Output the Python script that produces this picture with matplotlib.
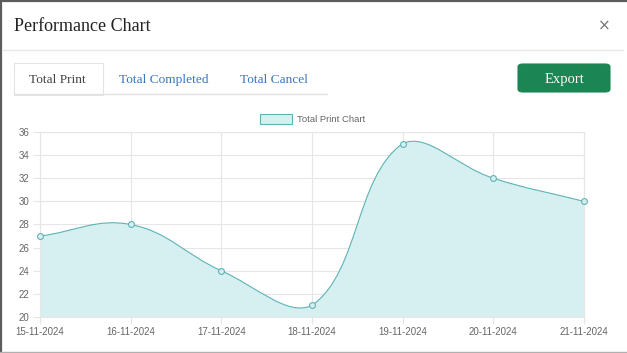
import numpy as np
import matplotlib
matplotlib.use("Agg")
import matplotlib.pyplot as plt
from matplotlib.path import Path
from matplotlib.patches import PathPatch, Rectangle, FancyBboxPatch
from matplotlib.lines import Line2D

# data
dates = ["15-11-2024", "16-11-2024", "17-11-2024", "18-11-2024",
         "19-11-2024", "20-11-2024", "21-11-2024"]
total_print = [27, 28, 24, 21, 35, 32, 30]
y_ticks = [20, 22, 24, 26, 28, 30, 32, 34, 36]
tabs = ["Total Print", "Total Completed", "Total Cancel"]

W, H = 627, 353
LINE = "#5fb3b5"
FILL = "#d6eff0"
GRID = "#e6e6e6"
SERIF = "Liberation Serif"
SANS = "Liberation Sans"

fig = plt.figure(figsize=(W / 100, H / 100), dpi=100, facecolor="white")


def fx(x):
    return x / W


def fy(y):
    return 1 - y / H


# modal frame
fig.add_artist(Line2D([0, 1], [fy(1), fy(1)], color="#5c5c5c", lw=1.6))
fig.add_artist(Line2D([fx(1), fx(1)], [0, 1], color="#5c5c5c", lw=1.6))
fig.add_artist(Line2D([0, 1], [fy(352), fy(352)], color="#b0b0b0", lw=1))

# header
fig.text(fx(14), fy(31), "Performance Chart", family=SERIF, fontsize=13,
         color="#222222", va="baseline", ha="left")
fig.text(fx(604), fy(26), "\u00d7", family="DejaVu Sans", fontsize=11,
         color="#777777", va="center", ha="center")
fig.add_artist(Line2D([fx(3), fx(623)], [fy(50), fy(50)], color="#e8e8e8", lw=1))

# tabs
fig.add_artist(Line2D([fx(14), fx(327)], [fy(94), fy(94)], color="#e3e3e3", lw=1))
fig.add_artist(Rectangle((fx(14), fy(95)), fx(103) - fx(14), fy(63) - fy(95),
                         facecolor="white", edgecolor="#e3e3e3", lw=0.8))
tab_x = [57.5, 164, 274.5]
tab_base = [82.7, 83.0, 82.7]
for label, x, yb in zip(tabs, tab_x, tab_base):
    fig.text(fx(x), fy(yb), label, family=SERIF, fontsize=9.6,
             color="#444444" if x == tab_x[0] else "#3578c0",
             va="baseline", ha="center")

# export button
fig.add_artist(FancyBboxPatch((fx(518), fy(92)), fx(610) - fx(518), fy(64) - fy(92),
                              boxstyle="round,pad=0,rounding_size=0.008",
                              facecolor="#1b8553", edgecolor="#1b8553", lw=0.8))
fig.text(fx(564), fy(83.5), "Export", family=SERIF, fontsize=10.5,
         color="white", va="baseline", ha="center")

# chart
ax = fig.add_axes([fx(40), fy(317), fx(584) - fx(40), fy(132) - fy(317)])
x = np.arange(len(dates))
ax.set_xlim(0, len(dates) - 1)
ax.set_ylim(y_ticks[0], y_ticks[-1])
ax.set_xticks(x)
ax.set_xticklabels(dates)
ax.set_yticks(y_ticks)
ax.grid(True, color=GRID, lw=0.8)
ax.set_axisbelow(True)
for s in ax.spines.values():
    s.set_color(GRID)
    s.set_linewidth(0.8)
ax.tick_params(length=5, color=GRID, width=0.8, labelsize=7,
               labelcolor="#666666", pad=2.5)
for t in ax.get_xticklabels() + ax.get_yticklabels():
    t.set_family(SANS)

# Chart.js style spline (tension 0.4) computed in pixel space
trans = ax.transData
pts = trans.transform(np.column_stack([x, total_print]))
n = len(pts)
cp_prev = np.zeros_like(pts)
cp_next = np.zeros_like(pts)
for i in range(n):
    prev = pts[i - 1] if i > 0 else pts[i]
    nxt = pts[i + 1] if i < n - 1 else pts[i]
    d01 = np.hypot(*(pts[i] - prev))
    d12 = np.hypot(*(nxt - pts[i]))
    tot = d01 + d12
    s01 = d01 / tot if tot else 0
    s12 = d12 / tot if tot else 0
    cp_prev[i] = pts[i] - 0.4 * s01 * (nxt - prev)
    cp_next[i] = pts[i] + 0.4 * s12 * (nxt - prev)
bb = ax.bbox
for arr in (cp_prev, cp_next):
    arr[:, 0] = np.clip(arr[:, 0], bb.x0, bb.x1)
    arr[:, 1] = np.clip(arr[:, 1], bb.y0, bb.y1)

inv = trans.inverted()
verts = [pts[0]]
codes = [Path.MOVETO]
for i in range(n - 1):
    verts += [cp_next[i], cp_prev[i + 1], pts[i + 1]]
    codes += [Path.CURVE4] * 3
verts = inv.transform(np.array(verts))

fill_verts = np.vstack([verts, [[x[-1], y_ticks[0]], [x[0], y_ticks[0]], verts[0]]])
fill_codes = codes + [Path.LINETO, Path.LINETO, Path.CLOSEPOLY]
ax.add_patch(PathPatch(Path(fill_verts, fill_codes), facecolor=FILL,
                       edgecolor="none", zorder=2))
ax.add_patch(PathPatch(Path(verts, codes), facecolor="none", edgecolor=LINE,
                       lw=0.8, zorder=3))
ax.plot(x, total_print, ls="none", marker="o", ms=4.2, mfc=FILL, mec=LINE,
        mew=0.8, zorder=4, clip_on=False)

# legend
fig.add_artist(Rectangle((fx(260), fy(124)), fx(292) - fx(260), fy(114) - fy(124),
                         facecolor=FILL, edgecolor=LINE, lw=0.8))
fig.text(fx(297), fy(119), "Total Print Chart", family=SANS, fontsize=6.8,
         color="#666666", va="center", ha="left")

fig.savefig("out.png", dpi=100, facecolor="white")
